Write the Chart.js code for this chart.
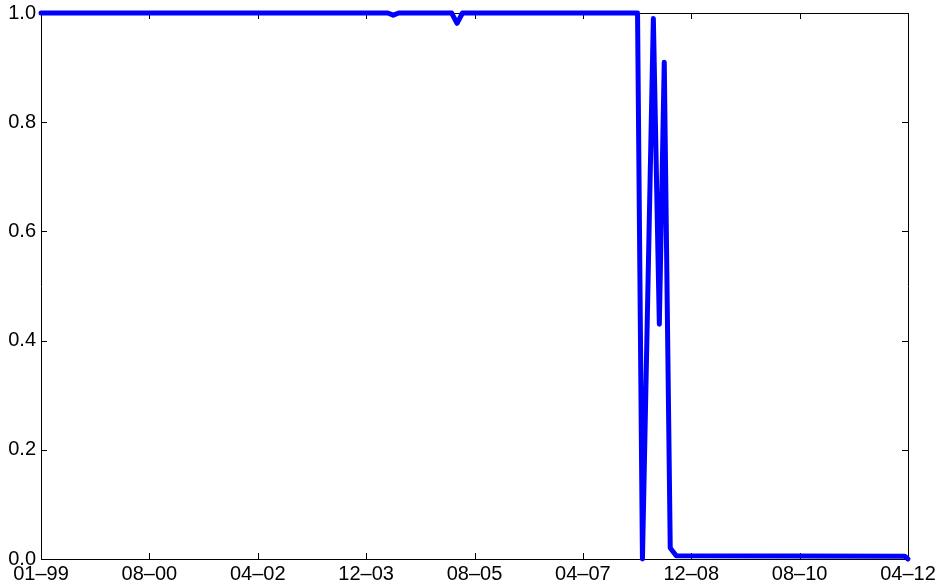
<!DOCTYPE html>
<html>
<head>
<meta charset="utf-8">
<script src="https://cdn.jsdelivr.net/npm/chart.js@4"></script>
<style>
  body { margin: 0; background: #fff; }
  #wrap { width: 935px; height: 586px; }
</style>
</head>
<body>
<div id="wrap"><canvas id="ratio-chart"></canvas></div>
<script>
// months since 01-99 (axis runs 0..159)
const months = [0, 63.6, 64.6, 65.6, 75.3, 76.3, 77.3, 109.4, 110.3, 112.3, 113.4, 114.3, 115.4, 116.5, 158.4, 159];
const ratio  = [1, 1, 0.996, 1, 1, 0.981, 1, 1, 0, 0.99, 0.43, 0.91, 0.02, 0.006, 0.005, 0];
const tickLabels = ["01–99", "08–00", "04–02", "12–03", "08–05", "04–07", "12–08", "08–10", "04–12"];
const yTicks = [0, 0.2, 0.4, 0.6, 0.8, 1.0];

const lastMonth = 159;
const font = { family: "'Liberation Sans', Arial, Helvetica, sans-serif", size: 20 };

// box round the plot with inward tick marks, like the original
const boxPlugin = {
  id: 'box',
  beforeDatasetsDraw(chart) {
    const ctx = chart.ctx;
    const a = chart.chartArea;
    const xs = chart.scales.x, ys = chart.scales.y;
    ctx.save();
    ctx.strokeStyle = '#000';
    ctx.lineWidth = 1;
    ctx.beginPath();
    ctx.rect(a.left + 0.5, a.top + 0.5, a.right - a.left, a.bottom - a.top);
    xs.ticks.forEach(t => {
      const px = Math.round(xs.getPixelForValue(t.value)) + 0.5;
      ctx.moveTo(px, a.bottom); ctx.lineTo(px, a.bottom - 6);
      ctx.moveTo(px, a.top); ctx.lineTo(px, a.top + 6);
    });
    ys.ticks.forEach(t => {
      const py = Math.round(ys.getPixelForValue(t.value)) + 0.5;
      ctx.moveTo(a.left, py); ctx.lineTo(a.left + 6, py);
      ctx.moveTo(a.right, py); ctx.lineTo(a.right - 6, py);
    });
    ctx.stroke();
    ctx.restore();
  }
};

new Chart(document.getElementById('ratio-chart'), {
  type: 'line',
  data: {
    datasets: [{
      data: months.map((m, i) => ({ x: m, y: ratio[i] })),
      borderColor: '#0000ff',
      borderWidth: 5,
      borderCapStyle: 'round',
      borderJoinStyle: 'round',
      pointRadius: 0,
      tension: 0,
      clip: false
    }]
  },
  options: {
    responsive: true,
    maintainAspectRatio: false,
    animation: false,
    layout: { padding: { top: 13, right: 27, left: 0, bottom: 0 } },
    plugins: { legend: { display: false }, tooltip: { enabled: false } },
    scales: {
      x: {
        type: 'linear',
        min: 0,
        max: lastMonth,
        grid: { display: false, drawTicks: false },
        border: { display: false },
        afterBuildTicks: s => {
          s.ticks = tickLabels.map((l, i) => ({ value: i * lastMonth / (tickLabels.length - 1) }));
        },
        afterFit: s => { s.height = 27; s.paddingLeft = 0; s.paddingRight = 0; },
        ticks: {
          autoSkip: false,
          maxRotation: 0,
          padding: 3,
          color: '#000',
          font: font,
          callback: (v, i) => tickLabels[i]
        }
      },
      y: {
        min: 0,
        max: 1,
        grid: { display: false, drawTicks: false },
        border: { display: false },
        afterBuildTicks: s => { s.ticks = yTicks.map(v => ({ value: v })); },
        afterFit: s => { s.width = 41; s.paddingTop = 0; s.paddingBottom = 0; },
        ticks: {
          padding: 5,
          color: '#000',
          font: font,
          callback: v => v.toFixed(1)
        }
      }
    }
  },
  plugins: [boxPlugin]
});
</script>
</body>
</html>
